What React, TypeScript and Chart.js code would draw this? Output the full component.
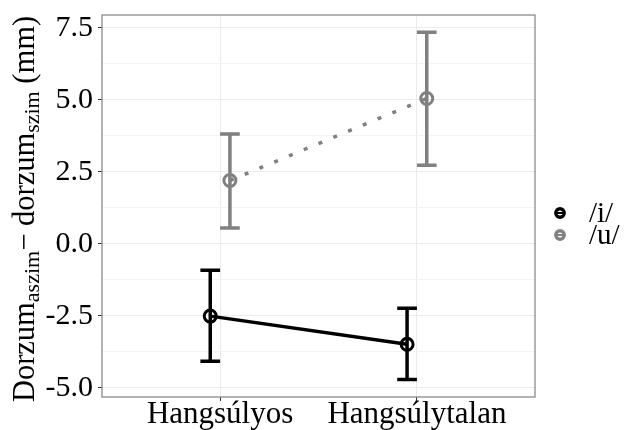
import React, { useEffect, useRef } from "react";
import { Chart, registerables } from "chart.js";

Chart.register(...registerables);

// ---- data ----
const categories = ["Hangsúlyos", "Hangsúlytalan"];
const seriesNames = ["/i/", "/u/"];
const seriesColors = ["#000000", "#808080"];
const iMean = [-2.51, -3.49];
const iLow = [-4.08, -4.71];
const iHigh = [-0.92, -2.24];
const uMean = [2.2, 5.05];
const uLow = [0.55, 2.73];
const uHigh = [3.82, 7.35];
const yMajorTicks = [-5, -2.5, 0, 2.5, 5, 7.5];
const yMajorLabels = ["-5.0", "-2.5", "0.0", "2.5", "5.0", "7.5"];
const yMinorTicks = [-3.75, -1.25, 1.25, 3.75, 6.25];
const yMin = -5.32;
const yMax = 7.95;
const dodge = [-0.05, 0.05];
const errWidth = 0.1;

const FONT = "'Liberation Serif', 'Times New Roman', serif";

const means = [iMean, uMean];
const lows = [iLow, uLow];
const highs = [iHigh, uHigh];

const isMajor = (v: number) => yMajorTicks.some((m) => Math.abs(m - v) < 1e-6);

const errorBarPlugin = {
  id: "errorBars",
  beforeDatasetsDraw(chart: any) {
    const ctx = chart.ctx;
    const xs = chart.scales.x;
    const ys = chart.scales.y;
    ctx.save();
    for (let s = 0; s < means.length; s++) {
      ctx.strokeStyle = seriesColors[s];
      ctx.lineWidth = 3.5;
      ctx.lineCap = "butt";
      for (let c = 0; c < categories.length; c++) {
        const xc = c + 1 + dodge[s];
        const x = xs.getPixelForValue(xc);
        const xl = xs.getPixelForValue(xc - errWidth / 2);
        const xr = xs.getPixelForValue(xc + errWidth / 2);
        const yl = ys.getPixelForValue(lows[s][c]);
        const yh = ys.getPixelForValue(highs[s][c]);
        ctx.beginPath();
        ctx.moveTo(x, yl);
        ctx.lineTo(x, yh);
        ctx.moveTo(xl, yl);
        ctx.lineTo(xr, yl);
        ctx.moveTo(xl, yh);
        ctx.lineTo(xr, yh);
        ctx.stroke();
      }
    }
    ctx.restore();
  },
};

const decorPlugin = {
  id: "decor",
  afterDraw(chart: any) {
    const ctx = chart.ctx;
    const a = chart.chartArea;
    ctx.save();
    // panel border
    ctx.strokeStyle = "#8a8a8a";
    ctx.lineWidth = 1.3;
    ctx.strokeRect(a.left, a.top, a.right - a.left, a.bottom - a.top);

    // y axis title with subscripts
    const segs = [
      { t: "Dorzum", sub: false },
      { t: "aszim", sub: true },
      { t: "\u2212", sub: false },
      { t: " dorzum", sub: false },
      { t: "szim", sub: true },
      { t: " (mm)", sub: false },
    ];
    const mainSize = 30.5;
    const subSize = 22;
    let total = 0;
    const widths: number[] = [];
    for (const s of segs) {
      ctx.font = `${s.sub ? subSize : mainSize}px ${FONT}`;
      const w = ctx.measureText(s.t).width;
      widths.push(w);
      total += w;
    }
    const cy = (a.top + a.bottom) / 2 + 3;
    const baseX = 34;
    ctx.translate(baseX, cy + total / 2);
    ctx.rotate(-Math.PI / 2);
    ctx.fillStyle = "#000";
    ctx.textBaseline = "alphabetic";
    ctx.textAlign = "left";
    let pos = 0;
    segs.forEach((s, i) => {
      ctx.font = `${s.sub ? subSize : mainSize}px ${FONT}`;
      ctx.fillText(s.t, pos, s.sub ? 5 : 0);
      pos += widths[i];
    });
    ctx.restore();

    // legend
    ctx.save();
    const legendX = 560;
    const legendY = [213, 235];
    const textX = 589;
    ctx.font = `29px ${FONT}`;
    ctx.textBaseline = "middle";
    ctx.textAlign = "left";
    seriesNames.forEach((name, i) => {
      const y = legendY[i];
      ctx.strokeStyle = seriesColors[i];
      ctx.lineWidth = 3.4;
      ctx.beginPath();
      ctx.arc(legendX, y, 4.2, 0, Math.PI * 2);
      ctx.stroke();
      ctx.lineWidth = 2;
      ctx.beginPath();
      ctx.moveTo(legendX - 4.5, y);
      ctx.lineTo(legendX + 4.5, y);
      ctx.stroke();
      ctx.fillStyle = "#000";
      ctx.fillText(name, textX, y + 1);
    });
    ctx.restore();
  },
};

export default function App() {
  const ref = useRef<HTMLCanvasElement | null>(null);

  useEffect(() => {
    if (!ref.current) return;
    const datasets = means.map((m, s) => ({
      label: seriesNames[s],
      data: m.map((v, c) => ({ x: c + 1 + dodge[s], y: v })),
      borderColor: seriesColors[s],
      backgroundColor: "rgba(0,0,0,0)",
      borderWidth: 3.5,
      borderDash: s === 1 ? [4, 12] : [],
      showLine: true,
      pointStyle: "circle",
      pointRadius: 6,
      pointBorderWidth: 3,
      pointBorderColor: seriesColors[s],
      pointBackgroundColor: "rgba(0,0,0,0)",
      tension: 0,
    }));

    const chart = new Chart(ref.current, {
      type: "line",
      data: { datasets },
      options: {
        animation: false,
        responsive: false,
        layout: { padding: { top: 15, right: 94, left: 0, bottom: 0 } },
        plugins: {
          legend: { display: false },
          tooltip: { enabled: false },
        },
        scales: {
          x: {
            type: "linear",
            min: 0.4,
            max: 2.6,
            afterBuildTicks: (scale: any) => {
              scale.ticks = categories.map((_, i) => ({ value: i + 1 }));
            },
            afterFit: (scale: any) => {
              scale.height = 33;
              scale.paddingLeft = 0;
              scale.paddingRight = 0;
            },
            ticks: {
              autoSkip: false,
              maxRotation: 0,
              padding: -5,
              color: "#000",
              font: { family: FONT, size: 31 },
              callback: (v: any) => categories[Math.round(Number(v)) - 1] ?? "",
            },
            grid: {
              color: "#ebebeb",
              lineWidth: 1,
              drawTicks: true,
              tickLength: 4,
              tickColor: "#333333",
              tickWidth: 1,
            },
            border: { display: false },
          },
          y: {
            type: "linear",
            min: yMin,
            max: yMax,
            afterBuildTicks: (scale: any) => {
              const all = [...yMajorTicks, ...yMinorTicks].sort((a, b) => a - b);
              scale.ticks = all.map((v) => ({ value: v }));
            },
            afterFit: (scale: any) => {
              scale.width = 102;
              scale.paddingTop = 0;
              scale.paddingBottom = 0;
            },
            ticks: {
              autoSkip: false,
              padding: 5,
              color: "#000",
              font: { family: FONT, size: 30 },
              callback: (v: any) => {
                const idx = yMajorTicks.findIndex((m) => Math.abs(m - Number(v)) < 1e-6);
                return idx >= 0 ? yMajorLabels[idx] : "";
              },
            },
            grid: {
              color: (ctx: any) => (ctx.tick && isMajor(ctx.tick.value) ? "#ebebeb" : "#f3f3f3"),
              lineWidth: 1,
              drawTicks: true,
              tickLength: 4,
              tickColor: (ctx: any) => (ctx.tick && isMajor(ctx.tick.value) ? "#333333" : "rgba(0,0,0,0)"),
              tickWidth: 1,
            },
            border: { display: false },
          },
        },
      },
      plugins: [errorBarPlugin, decorPlugin],
    });
    return () => chart.destroy();
  }, []);

  return (
    <div style={{ position: "fixed", left: 0, top: 0, width: 629, height: 430, background: "#fff" }}>
      <canvas ref={ref} width={629} height={430} style={{ width: 629, height: 430, display: "block" }} />
    </div>
  );
}
